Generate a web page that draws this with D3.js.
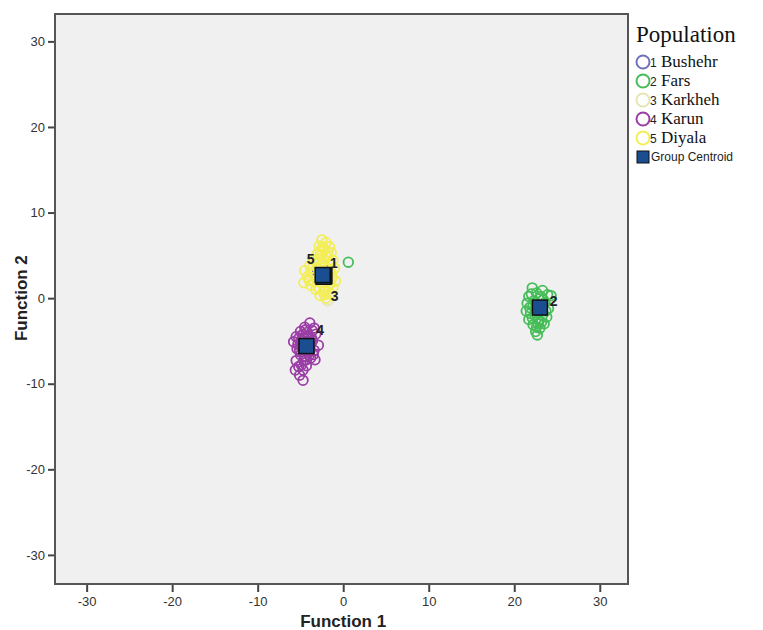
<!DOCTYPE html>
<html>
<head>
<meta charset="utf-8">
<script src="https://cdn.jsdelivr.net/npm/d3@7"></script>
<style>
  body { margin: 0; background: #fff; }
  text { font-family: Arial, "Liberation Sans", sans-serif; }
</style>
</head>
<body>
<div id="chart"></div>
<script>
// discriminant scores (function 1, function 2)
let groupNames = ["Bushehr", "Fars", "Karkheh", "Karun", "Diyala"];
let groupColors = ["#6f72bb", "#46bd58", "#e7e4b4", "#9a3ea6", "#f3ee55"];
let tickVals = [-30, -20, -10, 0, 10, 20, 30];

let bushehrPts = [[-2.5, 2.5], [-2.0, 3.2], [-3.0, 3.0], [-1.9, 2.0]];
let farsPts = [[22.1, 1.2], [23.3, 0.9], [22.6, 0.6], [23.9, 0.4], [21.7, 0.2], [24.3, 0.3],
  [22.9, -0.1], [21.5, -0.6], [23.6, -0.5], [22.2, -0.9], [24.0, -1.2], [21.4, -1.5],
  [23.0, -1.6], [22.4, -2.0], [23.8, -2.2], [21.7, -2.5], [22.9, -2.6], [23.5, -3.0],
  [22.2, -3.1], [23.0, -3.5], [22.5, -3.9], [22.7, -4.3], [21.9, -1.8], [23.3, -2.0],
  [22.6, -1.3], [23.4, -0.2], [22.0, 0.5], [22.8, -3.0], [22.3, -0.3], [23.1, 0.2],
  [23.7, -1.5], [22.1, -2.3], [23.2, -2.8], [22.6, -3.4], [21.8, -1.1], [22.9, -0.8],
  [0.6, 4.2]];
let karkhehPts = [[-2.0, 1.0], [-1.5, 2.0], [-2.5, 3.0], [-3.0, 2.0], [-1.8, -0.3]];
let karunPts = [[-3.9, -2.9], [-4.5, -3.4], [-3.4, -3.5], [-5.0, -3.9], [-4.2, -4.0],
  [-3.2, -4.2], [-5.5, -4.5], [-4.6, -4.6], [-3.7, -4.7], [-5.8, -5.1], [-5.0, -5.3],
  [-3.8, -5.4], [-2.9, -5.5], [-5.4, -5.9], [-4.4, -6.0], [-3.4, -6.1], [-5.0, -6.6],
  [-4.0, -6.7], [-3.3, -7.2], [-5.5, -7.3], [-4.6, -7.3], [-5.2, -8.0], [-4.3, -7.9],
  [-5.6, -8.4], [-4.7, -8.4], [-5.1, -9.0], [-4.7, -9.6], [-3.6, -3.8], [-4.9, -4.9],
  [-3.5, -6.6], [-4.2, -5.0], [-4.8, -5.8], [-3.9, -6.2], [-4.5, -6.8], [-4.1, -4.5],
  [-4.7, -4.2], [-5.2, -4.7], [-3.6, -5.0], [-4.0, -5.8], [-5.1, -6.1], [-4.3, -7.2],
  [-3.8, -7.0], [-4.9, -7.8], [-5.3, -5.4], [-4.4, -3.7]];
let diyalaPts = [[-2.5, 6.8], [-2.0, 6.5], [-1.6, 6.0], [-2.8, 6.1], [-2.2, 5.7], [-1.4, 5.3],
  [-3.0, 5.2], [-2.6, 5.0], [-1.9, 4.8], [-3.4, 4.5], [-1.2, 4.4], [-2.4, 4.2], [-3.9, 3.8],
  [-4.5, 3.2], [-1.0, 3.5], [-2.9, 3.4], [-1.6, 3.1], [-4.2, 2.5], [-3.5, 2.8], [-1.3, 2.4],
  [-0.9, 2.0], [-4.6, 1.8], [-3.8, 1.5], [-2.6, 1.8], [-1.8, 1.4], [-3.2, 1.0], [-2.3, 0.8],
  [-1.5, 0.5], [-2.7, 0.3], [-2.0, 0.0], [-3.0, 2.2], [-2.0, 2.6], [-2.2, 3.6], [-3.6, 3.5],
  [-1.2, 1.2], [-2.4, 6.0], [-1.8, 5.4], [-2.7, 5.5], [-3.1, 4.0], [-1.6, 4.0], [-2.8, 4.6],
  [-4.0, 2.1], [-3.4, 1.9], [-1.5, 1.7], [-2.8, 1.1], [-2.2, 0.4], [-1.4, 2.9], [-3.8, 3.0]];

let centroids = [[-2.2, 2.6], [23.0, -1.1], [-2.3, 2.5], [-4.3, -5.6], [-2.4, 2.7]];
// where the group number sits next to its centroid
let centroidLabels = [["1", -1.1, 4.1], ["2", 24.6, -0.3], ["3", -1.0, 0.3], ["4", -2.7, -3.7], ["5", -3.8, 4.6]];

let allPts = [bushehrPts, farsPts, karkhehPts, karunPts, diyalaPts];

let W = 763, H = 630;
let pLeft = 55, pRight = 628, pTop = 14, pBottom = 584;

let svg = d3.select("#chart").append("svg")
  .attr("width", W)
  .attr("height", H);

let x = d3.scaleLinear().domain([-33.7, 33.3]).range([pLeft, pRight]);
let y = d3.scaleLinear().domain([-33.4, 33.2]).range([pBottom, pTop]);

svg.append("rect")
  .attr("x", pLeft).attr("y", pTop)
  .attr("width", pRight - pLeft).attr("height", pBottom - pTop)
  .attr("fill", "#f0f0f0");

// points, group order so Diyala ends up on top
allPts.forEach(function(pts, gi) {
  svg.append("g").selectAll("circle")
    .data(pts)
    .enter()
    .append("circle")
    .attr("cx", d => x(d[0]))
    .attr("cy", d => y(d[1]))
    .attr("r", 4.8)
    .attr("fill", "none")
    .attr("stroke", groupColors[gi])
    .attr("stroke-width", 1.8);
});

// centroids
let cs = 15;
svg.append("g").selectAll("rect")
  .data(centroids)
  .enter()
  .append("rect")
  .attr("x", d => x(d[0]) - cs / 2)
  .attr("y", d => y(d[1]) - cs / 2)
  .attr("width", cs).attr("height", cs)
  .attr("fill", "#1b4e90")
  .attr("stroke", "#111")
  .attr("stroke-width", 1.5);

svg.append("g").selectAll("text")
  .data(centroidLabels)
  .enter()
  .append("text")
  .attr("x", d => x(d[1]))
  .attr("y", d => y(d[2]))
  .attr("text-anchor", "middle")
  .attr("dominant-baseline", "central")
  .style("font-size", "14px")
  .style("font-weight", "bold")
  .attr("fill", "#222")
  .text(d => d[0]);

// axes
let xAxis = svg.append("g")
  .attr("transform", "translate(0," + pBottom + ")")
  .call(d3.axisBottom(x).tickValues(tickVals).tickFormat(d => String(d)).tickSize(8).tickPadding(5));
let yAxis = svg.append("g")
  .attr("transform", "translate(" + pLeft + ",0)")
  .call(d3.axisLeft(y).tickValues(tickVals).tickFormat(d => String(d)).tickSize(7).tickPadding(3));

[xAxis, yAxis].forEach(function(a) {
  a.select(".domain").remove();
  a.selectAll(".tick line").attr("stroke", "#444").attr("stroke-width", 2);
  a.selectAll(".tick text")
    .style("font-size", "13px")
    .style("font-family", "Arial, 'Liberation Sans', sans-serif")
    .attr("fill", "#333");
});

svg.append("rect")
  .attr("x", pLeft).attr("y", pTop)
  .attr("width", pRight - pLeft).attr("height", pBottom - pTop)
  .attr("fill", "none")
  .attr("stroke", "#555")
  .attr("stroke-width", 2);

svg.append("text")
  .attr("x", x(0)).attr("y", 627)
  .attr("text-anchor", "middle")
  .style("font-size", "17px")
  .style("font-weight", "bold")
  .attr("fill", "#222")
  .text("Function 1");

svg.append("text")
  .attr("transform", "translate(27," + y(0) + ") rotate(-90)")
  .attr("text-anchor", "middle")
  .style("font-size", "17px")
  .style("font-weight", "bold")
  .attr("fill", "#222")
  .text("Function 2");

// legend
let lg = svg.append("g").attr("transform", "translate(636,0)");
lg.append("text")
  .attr("x", 0).attr("y", 42)
  .style("font-family", "'Liberation Serif', 'DejaVu Serif', serif")
  .style("font-size", "23px")
  .attr("fill", "#111")
  .text("Population");

let rowY = d3.scaleLinear().domain([0, 1]).range([62, 81]);
groupNames.forEach(function(name, i) {
  let yy = rowY(i);
  lg.append("circle")
    .attr("cx", 7).attr("cy", yy).attr("r", 6.5)
    .attr("fill", "none")
    .attr("stroke", groupColors[i])
    .attr("stroke-width", 2);
  lg.append("text")
    .attr("x", 14).attr("y", yy + 5)
    .style("font-size", "12px")
    .attr("fill", "#222")
    .text(i + 1);
  lg.append("text")
    .attr("x", 25).attr("y", yy + 5)
    .style("font-family", "'Liberation Serif', 'DejaVu Serif', serif")
    .style("font-size", "17px")
    .attr("fill", "#111")
    .text(name);
});
let sqY = rowY(5);
lg.append("rect")
  .attr("x", 1).attr("y", sqY - 6)
  .attr("width", 12).attr("height", 12)
  .attr("fill", "#1b4e90")
  .attr("stroke", "#111")
  .attr("stroke-width", 1);
lg.append("text")
  .attr("x", 15).attr("y", sqY + 4)
  .style("font-size", "12px")
  .attr("fill", "#222")
  .text("Group Centroid");
</script>
</body>
</html>
